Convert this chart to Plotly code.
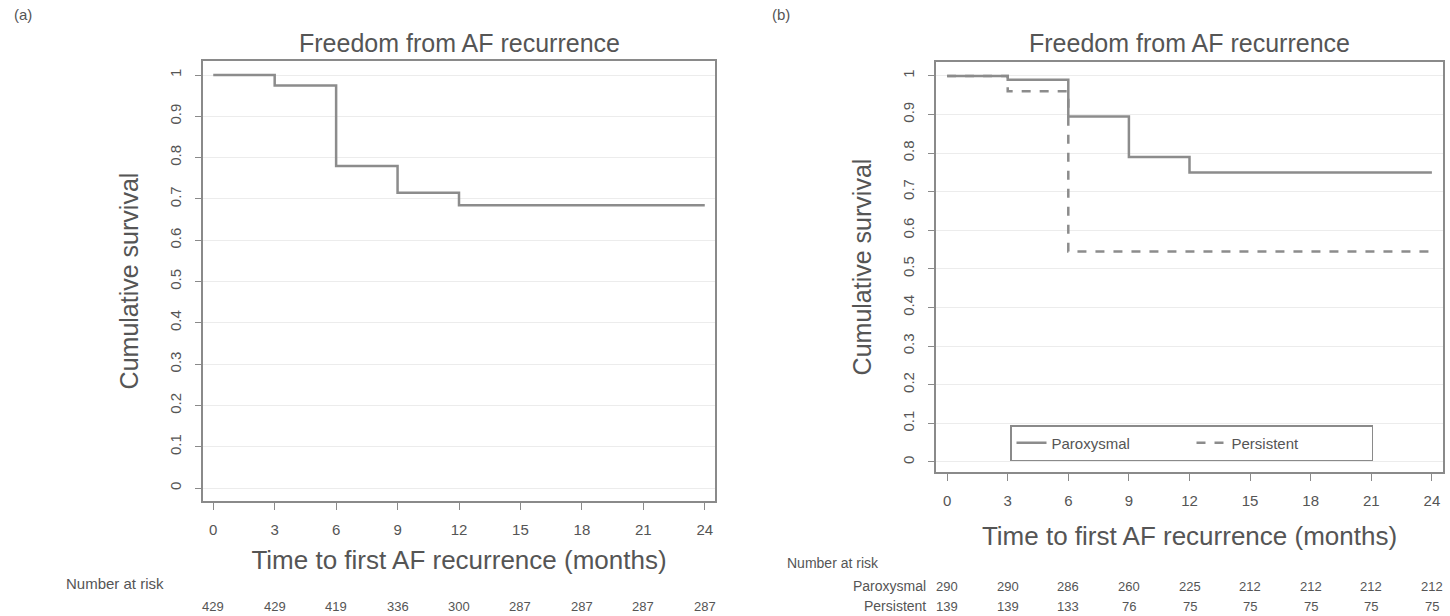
import plotly.graph_objects as go

# ---------------- data ----------------
months = [0, 3, 6, 9, 12, 15, 18, 21, 24]
tick_labels_x = [str(m) for m in months]
surv_ticks = [0, 0.1, 0.2, 0.3, 0.4, 0.5, 0.6, 0.7, 0.8, 0.9, 1.0]
tick_labels_y = ["0", "0.1", "0.2", "0.3", "0.4", "0.5", "0.6", "0.7", "0.8", "0.9", "1"]

# panel (a): all patients
time_all = [0, 3, 6, 9, 12, 24]
surv_all = [1.0, 0.975, 0.78, 0.715, 0.685, 0.685]
risk_all = [429, 429, 419, 336, 300, 287, 287, 287, 287]

# panel (b): by AF type
time_parox = [0, 3, 6, 9, 12, 24]
surv_parox = [1.0, 0.99, 0.895, 0.79, 0.75, 0.75]
time_pers = [0, 3, 6, 24]
surv_pers = [1.0, 0.96, 0.545, 0.545]
risk_parox = [290, 290, 286, 260, 225, 212, 212, 212, 212]
risk_pers = [139, 139, 133, 76, 75, 75, 75, 75, 75]

title_text = "Freedom from AF recurrence"
xtitle_text = "Time to first AF recurrence (months)"
ytitle_text = "Cumulative survival"

# ---------------- style ----------------
FONT = "Liberation Sans, Arial, sans-serif"
TXT = "#555555"
LINE = "#8c8c8c"
FRAME = "#8a8a8a"
W, H = 1450, 616

fig = go.Figure()

fig.add_trace(go.Scatter(x=time_all, y=surv_all, mode="lines", line_shape="hv",
                         line=dict(color=LINE, width=2.5), showlegend=False,
                         name="All", xaxis="x", yaxis="y"))
fig.add_trace(go.Scatter(x=time_parox, y=surv_parox, mode="lines", line_shape="hv",
                         line=dict(color=LINE, width=2.5), name="Paroxysmal",
                         xaxis="x2", yaxis="y2"))
fig.add_trace(go.Scatter(x=time_pers, y=surv_pers, mode="lines", line_shape="hv",
                         line=dict(color=LINE, width=2.5, dash="dash"), name="Persistent",
                         xaxis="x2", yaxis="y2"))


def xaxis(domain, rng, anchor, standoff):
    return dict(domain=domain, range=rng, anchor=anchor, tickmode="array",
                tickvals=months, ticktext=tick_labels_x, ticks="outside", ticklen=7,
                tickcolor=FRAME, tickwidth=1, showline=True, mirror=True,
                linecolor=FRAME, linewidth=1.5, showgrid=False, zeroline=False,
                ticklabelstandoff=7,
                tickfont=dict(family=FONT, size=15, color=TXT),
                title=dict(text=xtitle_text, standoff=standoff,
                           font=dict(family=FONT, size=26, color=TXT)))


def yaxis(domain, rng, anchor):
    return dict(domain=domain, range=rng, anchor=anchor, tickmode="array",
                tickvals=surv_ticks, ticktext=tick_labels_y, tickangle=-90,
                ticks="outside", ticklen=6, tickcolor=FRAME, tickwidth=1,
                showline=True, mirror=True, linecolor=FRAME, linewidth=1.5,
                showgrid=True, gridcolor="#ececec", gridwidth=1, zeroline=False,
                ticklabelstandoff=8,
                tickfont=dict(family=FONT, size=15, color=TXT),
                title=dict(text=ytitle_text, standoff=22,
                           font=dict(family=FONT, size=25, color=TXT)))


xa_dom = [203 / W, 715 / W]
ya_dom = [1 - 501 / H, 1 - 61 / H]
xb_dom = [936 / W, 1443 / W]
yb_dom = [1 - 472 / H, 1 - 62 / H]

annotations = []
# panel letters
annotations.append(dict(text="(a)", x=12 / W, y=1 - 15 / H, xref="paper", yref="paper",
                        xanchor="left", yanchor="middle", showarrow=False,
                        font=dict(family=FONT, size=15, color=TXT)))
annotations.append(dict(text="(b)", x=770 / W, y=1 - 15 / H, xref="paper", yref="paper",
                        xanchor="left", yanchor="middle", showarrow=False,
                        font=dict(family=FONT, size=15, color=TXT)))
# panel titles
for dom, yy in [(xa_dom, 43), (xb_dom, 43)]:
    annotations.append(dict(text=title_text, x=(dom[0] + dom[1]) / 2, y=1 - yy / H,
                            xref="paper", yref="paper", xanchor="center", yanchor="middle",
                            showarrow=False, font=dict(family=FONT, size=25, color=TXT)))

# number at risk (a)
annotations.append(dict(text="Number at risk", x=115 / W, y=1 - 583 / H, xref="paper",
                        yref="paper", xanchor="center", yanchor="middle", showarrow=False,
                        font=dict(family=FONT, size=15, color=TXT)))
for m, n in zip(months, risk_all):
    annotations.append(dict(text=str(n), x=m, y=1 - 606 / H, xref="x", yref="paper",
                            xanchor="center", yanchor="middle", showarrow=False,
                            font=dict(family=FONT, size=13, color=TXT)))

# number at risk (b)
annotations.append(dict(text="Number at risk", x=785 / W, y=1 - 563 / H, xref="paper",
                        yref="paper", xanchor="left", yanchor="middle", showarrow=False,
                        font=dict(family=FONT, size=14, color=TXT)))
annotations.append(dict(text="Paroxysmal", x=928 / W, y=1 - 586 / H, xref="paper",
                        yref="paper", xanchor="right", yanchor="middle", showarrow=False,
                        font=dict(family=FONT, size=14, color=TXT)))
annotations.append(dict(text="Persistent", x=928 / W, y=1 - 606 / H, xref="paper",
                        yref="paper", xanchor="right", yanchor="middle", showarrow=False,
                        font=dict(family=FONT, size=14, color=TXT)))
for m, n in zip(months, risk_parox):
    annotations.append(dict(text=str(n), x=m, y=1 - 586 / H, xref="x2", yref="paper",
                            xanchor="center", yanchor="middle", showarrow=False,
                            font=dict(family=FONT, size=13, color=TXT)))
for m, n in zip(months, risk_pers):
    annotations.append(dict(text=str(n), x=m, y=1 - 606 / H, xref="x2", yref="paper",
                            xanchor="center", yanchor="middle", showarrow=False,
                            font=dict(family=FONT, size=13, color=TXT)))

fig.update_layout(
    width=W, height=H, margin=dict(l=0, r=0, t=0, b=0),
    paper_bgcolor="white", plot_bgcolor="white",
    font=dict(family=FONT, color=TXT),
    xaxis=xaxis(xa_dom, [-0.5, 24.5], "y", 14),
    yaxis=yaxis(ya_dom, [-0.031, 1.034], "x"),
    xaxis2=xaxis(xb_dom, [-0.55, 24.55], "y2", 19),
    yaxis2=yaxis(yb_dom, [-0.026, 1.036], "x2"),
    legend=dict(orientation="h", x=1010 / W, y=1 - 425 / H, xanchor="left", yanchor="top",
                bordercolor=FRAME, borderwidth=1.5, bgcolor="white",
                entrywidth=135, entrywidthmode="pixels",
                font=dict(family=FONT, size=15, color=TXT)),
    annotations=annotations,
)

fig.write_html("out.html")
